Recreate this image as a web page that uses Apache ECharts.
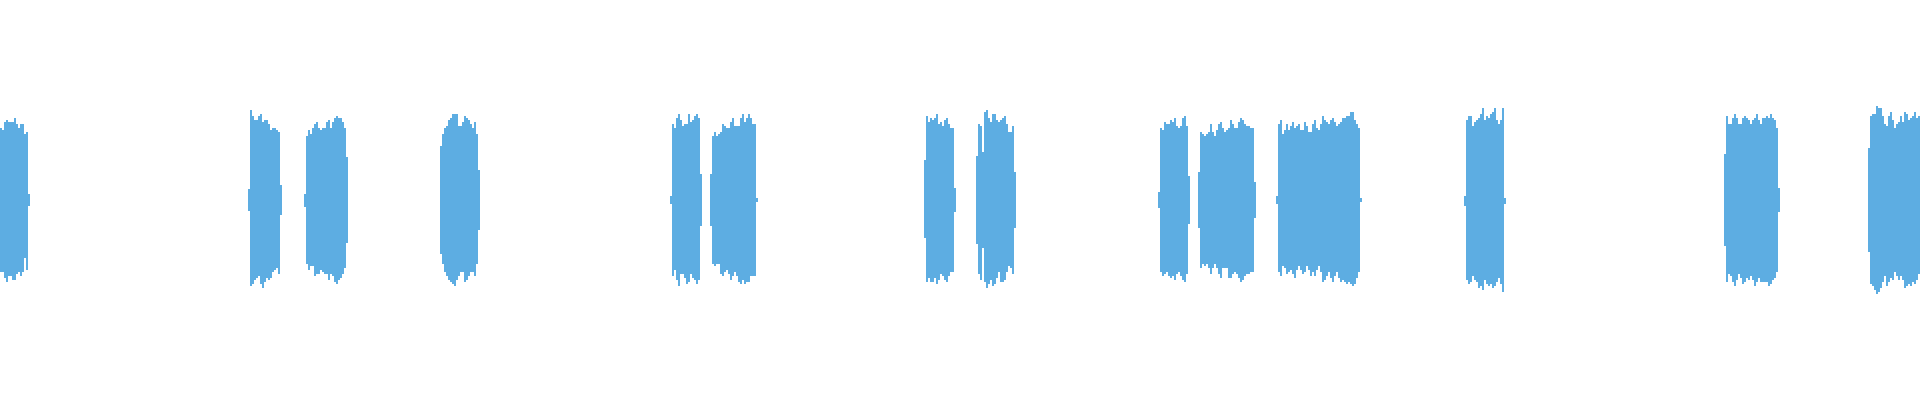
<!DOCTYPE html>
<html>
<head>
<meta charset="utf-8">
<script src="https://cdn.jsdelivr.net/npm/echarts@6/dist/echarts.min.js"></script>
<style>html,body{margin:0;padding:0;background:#fff;}#chart{width:1920px;height:400px;}</style>
</head>
<body>
<div id="chart"></div>
<script>
// Waveform envelope: frame index (x) and amplitude in % of full scale (y)
const totalFrames = 960;
const blockStart = [0, 124, 152, 220, 335, 355, 462, 488, 579, 599, 638, 732, 862, 934];
const blockPeak = [
  [36,35,39,40,39,39,39,41,38,36,38,38,33,34,3],
  [5.5,45,42,40,40,42,43,39,40,40,38,35,36,36,35,34,7.5],
  [3,32,35,33,36,38,39,36,35,36,36,39,40,36,39,41,42,41,41,39,36,21.5],
  [27,33,36,37,40,41,43,43,43,37,37,39,42,41,40,38,36,39,33,15],
  [2,38,36,41,43,40,37,38,38,43,39,40,42,43,41,13],
  [13,32,34,32,33,34,38,37,36,36,39,41,37,37,37,41,43,39,41,43,41,38,38,1],
  [20,42,39,41,40,41,43,38,39,37,40,41,38,36,36,6],
  [22,38,37,24,44,45,41,39,43,43,40,39,40,41,42,38,34,34,37,14],
  [4,36,35,39,38,38,40,39,41,37,36,37,41,42,37,12],
  [14,34,33,32,33,34,38,34,32,35,38,39,36,34,35,36,40,38,36,36,39,41,40,38,37,37,36,36,9],
  [2,38,40,33,35,38,35,37,39,36,37,38,35,35,39,37,34,34,38,40,36,35,38,42,40,39,38,40,41,39,37,38,39,41,41,42,42,44,44,40,38,36,1],
  [2,40,42,42,37,39,40,41,43,46,40,42,41,43,44,46,40,38,40,46,1],
  [23,42,38,38,41,43,41,38,38,41,42,41,40,38,40,41,43,40,38,41,41,42,41,43,41,40,36,6],
  [26,42,43,43,47,46,46,42,38,37,42,44,40,36,38,39,42,39,44,43,40,41,42,44,41,42]
];
const blockTrough = [
  [36,36,39,41,38,38,40,40,37,36,38,36,29,35,3],
  [5.5,43,42,40,39,38,42,44,41,39,40,39,36,35,34,37,7.5],
  [3.5,32,35,33,33,38,37,37,35,36,37,37,40,37,38,41,42,40,39,37,34,21.5],
  [27,32,36,38,40,41,42,43,40,38,36,36,41,40,38,36,36,38,32,15],
  [2,38,35,40,43,37,37,39,42,41,37,39,40,42,40,13],
  [13,32,33,32,32,37,38,36,35,37,40,38,36,38,41,42,40,42,41,41,38,38,38,1],
  [19,41,39,41,41,39,42,40,37,38,40,41,38,36,36,6],
  [22,37,40,24,41,44,42,40,43,42,39,36,41,41,40,36,33,34,37,14],
  [4,36,38,37,36,38,39,38,40,37,36,38,40,41,37,12],
  [14,34,32,33,32,34,37,34,32,34,37,39,34,34,34,39,39,37,36,37,39,41,40,38,37,37,36,36,9],
  [2,36,38,33,34,37,36,35,37,39,35,33,35,37,36,33,35,38,36,38,35,33,36,41,40,38,36,39,41,38,36,39,41,40,41,42,41,42,43,42,39,36,1],
  [3,40,42,41,38,40,41,44,43,45,40,42,43,42,44,43,41,39,42,46,2],
  [23,41,37,38,41,43,40,37,39,42,41,39,40,38,40,43,41,39,41,41,41,41,43,42,40,39,36,6],
  [26,42,43,45,47,46,44,41,38,43,41,39,40,36,38,40,38,40,44,43,42,43,41,42,40,37]
];

// Build [frame, peak, -trough] items from the blocks
const envelope = [];
blockStart.forEach((s, b) => {
  blockPeak[b].forEach((v, i) => envelope.push([s + i, v, -blockTrough[b][i]]));
});

const color = '#5dade2';
const chart = echarts.init(document.getElementById('chart'), null, {renderer: 'canvas'});
chart.setOption({
  animation: false,
  backgroundColor: '#ffffff',
  grid: {left: 0, right: 0, top: 0, bottom: 0},
  xAxis: {type: 'value', min: 0, max: totalFrames, show: false},
  yAxis: {type: 'value', min: -100, max: 100, show: false},
  series: [{
    type: 'custom',
    silent: true,
    data: envelope,
    encode: {x: 0, y: [1, 2]},
    renderItem: function (params, api) {
      const f = api.value(0);
      const p0 = api.coord([f, api.value(1)]);
      const p1 = api.coord([f + 1, api.value(2)]);
      return {
        type: 'rect',
        shape: {x: p0[0], y: p0[1], width: p1[0] - p0[0], height: p1[1] - p0[1]},
        style: {fill: color, stroke: null}
      };
    }
  }]
});
</script>
</body>
</html>
